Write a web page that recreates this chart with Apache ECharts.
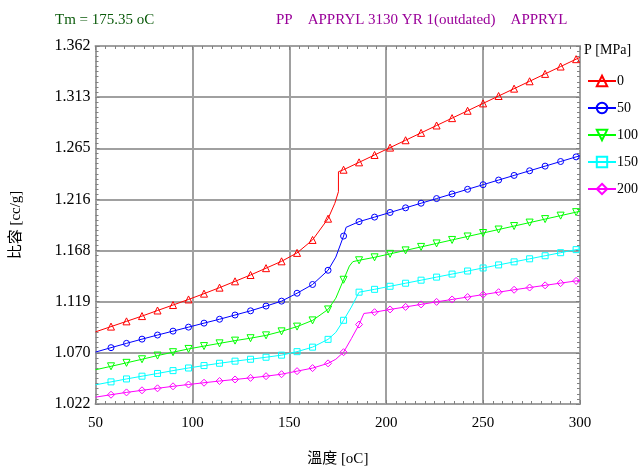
<!DOCTYPE html>
<html><head><meta charset="utf-8">
<script src="https://cdn.jsdelivr.net/npm/echarts@6/dist/echarts.min.js"></script>
<style>html,body{margin:0;padding:0;background:#fff}#c{width:641px;height:466px}</style>
</head><body><div id="c"></div>
<script>
const temps = [50,58,66,74,82,90,98,106,114,122,130,138,146,154,162,170,178,186,194,202,210,218,226,234,242,250,258,266,274,282,290,298,300];
const p0   = [1.0905,1.0955,1.1005,1.1055,1.1108,1.1160,1.1213,1.1268,1.1325,1.1385,1.1445,1.1510,1.1575,1.1655,1.1778,1.1980,1.2445,1.2515,1.2585,1.2655,1.2725,1.2795,1.2865,1.2935,1.3005,1.3075,1.3145,1.3215,1.3285,1.3355,1.3425,1.3495,1.3512];
const p50  = [1.0713,1.0755,1.0796,1.0836,1.0875,1.0912,1.0950,1.0988,1.1025,1.1065,1.1105,1.1150,1.1197,1.1272,1.1355,1.1490,1.1815,1.1952,1.1995,1.2039,1.2083,1.2127,1.2171,1.2215,1.2259,1.2303,1.2347,1.2391,1.2435,1.2479,1.2523,1.2567,1.2578];
const p100 = [1.0545,1.0578,1.0611,1.0645,1.0680,1.0712,1.0743,1.0770,1.0796,1.0822,1.0845,1.0872,1.0910,1.0955,1.1014,1.1118,1.1400,1.1585,1.1613,1.1646,1.1679,1.1712,1.1745,1.1778,1.1811,1.1844,1.1877,1.1910,1.1943,1.1976,1.2009,1.2042,1.2050];
const p150 = [1.0402,1.0430,1.0458,1.0484,1.0510,1.0537,1.0562,1.0585,1.0607,1.0627,1.0645,1.0664,1.0684,1.0717,1.0760,1.0834,1.1015,1.1282,1.1309,1.1338,1.1367,1.1396,1.1425,1.1454,1.1483,1.1512,1.1541,1.1570,1.1599,1.1628,1.1657,1.1686,1.1693];
const p200 = [1.0285,1.0308,1.0330,1.0350,1.0369,1.0388,1.0405,1.0422,1.0438,1.0453,1.0468,1.0484,1.0503,1.0532,1.0561,1.0606,1.0712,1.0975,1.1092,1.1118,1.1142,1.1166,1.1190,1.1213,1.1236,1.1259,1.1282,1.1305,1.1326,1.1347,1.1368,1.1389,1.1394];
// extra (unmarked) points through the melting transition
const x0T = [173.5,175.35,175.36],  x0V = [1.2126,1.2236,1.2426];
const x50T = [174,179.3],           x50V = [1.1615,1.1898];
const x100T = [174,181,182.8],      x100V = [1.1225,1.1530,1.1572];
const x150T = [174,182],            x150V = [1.0900,1.1140];
const x200T = [174,182,188.5],      x200V = [1.0645,1.0840,1.1080];
const pressures = ['0','50','100','150','200'];
const yLabels = ['1.022','1.070','1.119','1.168','1.216','1.265','1.313','1.362'];
const xLabels = ['50','100','150','200','250','300'];

const colors = ['#ff0000','#0000ff','#00ff00','#00ffff','#ff00ff'];
const symbols = ['triangle','circle','path://M0,0 L10,0 L5,10 Z','rect','diamond'];
const sizes = [7,6,7,6,7];
const vals = [p0,p50,p100,p150,p200];
const exT = [x0T,x50T,x100T,x150T,x200T];
const exV = [x0V,x50V,x100V,x150V,x200V];

function build(i){
  const pts = temps.map((t,k)=>{
    const o = {value:[t, vals[i][k]]};
    if (k===0 || k===temps.length-1) o.symbol='none';
    return o;
  });
  exT[i].forEach((t,k)=>pts.push({value:[t, exV[i][k]], symbol:'none'}));
  pts.sort((a,b)=>a.value[0]-b.value[0]);
  return pts;
}

const yMin = 1.022, yMax = 1.362, yInt = (yMax-yMin)/7;
const ff = 'Liberation Serif, "Noto Sans CJK TC", serif';
const gridCol = '#a0a0a0';

const chart = echarts.init(document.getElementById('c'), null, {renderer:'canvas'});
chart.setOption({
  animation:false,
  backgroundColor:'#fff',
  title:[
    {text:'Tm = 175.35 oC', left:50, top:8, textStyle:{fontFamily:ff, fontSize:15, fontWeight:'normal', color:'#0a5a0a'}},
    {text:'PP    APPRYL 3130 YR 1(outdated)    APPRYL', left:271, top:8, textStyle:{fontFamily:ff, fontSize:15, fontWeight:'normal', color:'#990099'}}
  ],
  graphic:[{type:'text', left:584, top:43, style:{text:'P [MPa]', font:'14px Liberation Serif', fill:'#000'}}],
  legend:{
    orient:'vertical', left:587, top:74, padding:0, itemGap:13, itemWidth:28, itemHeight:13,
    data:pressures, textStyle:{fontFamily:ff, fontSize:14, color:'#000', padding:[0,0,0,-4]}
  },
  grid:{left:95.5, right:61, top:46, bottom:62, outerBoundsMode:'none', containLabel:false},
  xAxis:[{
    type:'value', min:50, max:300, interval:50,
    name:'溫度 [oC]', nameLocation:'middle', nameGap:48,
    nameTextStyle:{fontFamily:ff, fontSize:15, color:'#000'},
    axisLine:{show:true, lineStyle:{color:gridCol, width:2}},
    axisTick:{show:true, inside:true, length:4, lineStyle:{color:'#808080'}},
    minorTick:{show:true, splitNumber:10, length:3, lineStyle:{color:'#808080'}},
    splitLine:{show:true, lineStyle:{color:gridCol, width:2}},
    axisLabel:{fontFamily:ff, fontSize:15, color:'#000', margin:12,
      formatter:(v)=>xLabels[Math.round((v-50)/50)] || ''}
  },{
    type:'value', position:'top', min:50, max:300, interval:50,
    axisLine:{show:true, lineStyle:{color:gridCol, width:2}},
    axisTick:{show:true, inside:true, length:4, lineStyle:{color:'#808080'}},
    minorTick:{show:true, splitNumber:10, length:3, lineStyle:{color:'#808080'}},
    splitLine:{show:false}, axisLabel:{show:false}
  }],
  yAxis:[{
    type:'value', min:yMin, max:yMax, interval:yInt,
    name:'比容 [cc/g]', nameLocation:'middle', nameGap:72,
    nameTextStyle:{fontFamily:ff, fontSize:15, color:'#000'},
    axisLine:{show:true, lineStyle:{color:gridCol, width:2}},
    axisTick:{show:true, inside:true, length:4, lineStyle:{color:'#808080'}},
    minorTick:{show:true, splitNumber:10, length:3, lineStyle:{color:'#808080'}},
    splitLine:{show:true, lineStyle:{color:gridCol, width:2}},
    axisLabel:{fontFamily:ff, fontSize:16, color:'#000', margin:5,
      formatter:(v)=>yLabels[Math.round((v-yMin)/yInt)] || ''}
  },{
    type:'value', position:'right', min:yMin, max:yMax, interval:yInt,
    axisLine:{show:true, lineStyle:{color:gridCol, width:2}},
    axisTick:{show:true, inside:true, length:4, lineStyle:{color:'#808080'}},
    minorTick:{show:true, splitNumber:10, length:3, lineStyle:{color:'#808080'}},
    splitLine:{show:false}, axisLabel:{show:false}
  }],
  series: pressures.map((p,i)=>({
    type:'line', name:p, data:build(i),
    symbol:symbols[i], symbolSize:sizes[i], showSymbol:true,
    lineStyle:{color:colors[i], width:1},
    itemStyle:{color:'rgba(255,255,255,0)', borderColor:colors[i], borderWidth:1},
    emphasis:{disabled:true}, z:3
  }))
});
</script></body></html>
